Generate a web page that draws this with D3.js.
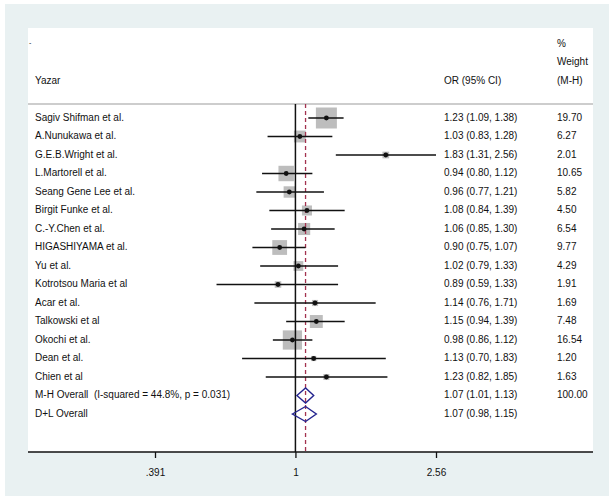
<!DOCTYPE html>
<html>
<head>
<meta charset="utf-8">
<script src="https://cdn.jsdelivr.net/npm/d3@7"></script>
<style>
  html, body { margin: 0; padding: 0; background: #ffffff; }
  svg { display: block; font-family: "Liberation Sans", Arial, sans-serif; }
  text { white-space: pre; }
</style>
</head>
<body>
<svg id="chart" width="613" height="496"></svg>
<script>
// ---- Data ----
const studies = ["Sagiv Shifman et al.", "A.Nunukawa et al.", "G.E.B.Wright et al.", "L.Martorell et al.",
  "Seang Gene Lee et al.", "Birgit Funke et al.", "C.-Y.Chen et al.", "HIGASHIYAMA et al.", "Yu et al.",
  "Kotrotsou Maria et al", "Acar et al.", "Talkowski et al", "Okochi et al.", "Dean et al.", "Chien et al"];
const or  = [1.23, 1.03, 1.83, 0.94, 0.96, 1.08, 1.06, 0.90, 1.02, 0.89, 1.14, 1.15, 0.98, 1.13, 1.23];
const lo  = [1.09, 0.83, 1.31, 0.80, 0.77, 0.84, 0.85, 0.75, 0.79, 0.59, 0.76, 0.94, 0.86, 0.70, 0.82];
const hi  = [1.38, 1.28, 2.56, 1.12, 1.21, 1.39, 1.30, 1.07, 1.33, 1.33, 1.71, 1.39, 1.12, 1.83, 1.85];
const weight = [19.70, 6.27, 2.01, 10.65, 5.82, 4.50, 6.54, 9.77, 4.29, 1.91, 1.69, 7.48, 16.54, 1.20, 1.63];

const overallLabels = ["M-H Overall  (I-squared = 44.8%, p = 0.031)", "D+L Overall"];
const overallOR = [1.07, 1.07];
const overallLo = [1.01, 0.98];
const overallHi = [1.13, 1.15];
const overallWeight = ["100.00", ""];

const tickValues = [0.391, 1, 2.56];
const tickLabels = [".391", "1", "2.56"];

// ---- Layout ----
const svg = d3.select("#chart");
const panel = {x0: 28, x1: 593, y0: 28, y1: 452};
const headerLineY = 104;
const colName = 35, colOR = 444, colW = 557;
const fs = 10;

// outer background
svg.append("rect").attr("x", 5).attr("y", 4).attr("width", 604).attr("height", 492).attr("fill", "#e9f1f2");
svg.append("rect").attr("x", panel.x0).attr("y", panel.y0).attr("width", panel.x1 - panel.x0)
  .attr("height", panel.y1 - panel.y0).attr("fill", "#ffffff");

const x = d3.scaleLog().domain([0.391, 2.56]).range([155, 436]);
const nRows = studies.length + overallLabels.length;
const y = d3.scaleLinear().domain([0, nRows - 1]).range([118, 414]);
const boxSide = d3.scaleSqrt().domain([0, 19.70]).range([0, 21]);

// header
const txt = (xx, yy, s, anchor) => svg.append("text").attr("x", xx).attr("y", yy)
  .attr("font-size", fs).attr("fill", "#111").attr("text-anchor", anchor || "start")
  .attr("dominant-baseline", "middle").attr("xml:space", "preserve").text(s);
txt(29, 43, "-").attr("font-size", 7);
txt(colName, 81, "Yazar");
txt(colOR, 81, "OR (95% CI)");
txt(colW, 44, "%");
txt(colW, 62.5, "Weight");
txt(colW, 81, "(M-H)");

svg.append("line").attr("x1", panel.x0).attr("x2", panel.x1).attr("y1", headerLineY).attr("y2", headerLineY)
  .attr("stroke", "#bdbdbd").attr("stroke-width", 1.3);

// boxes
const rows = d3.range(studies.length);
svg.append("g").selectAll("rect").data(rows).join("rect")
  .attr("x", i => x(or[i]) - boxSide(weight[i]) / 2)
  .attr("y", i => y(i) - boxSide(weight[i]) / 2)
  .attr("width", i => boxSide(weight[i]))
  .attr("height", i => boxSide(weight[i]))
  .attr("fill", "#bdbdbd");

// reference line at 1
svg.append("line").attr("x1", x(1)).attr("x2", x(1)).attr("y1", headerLineY).attr("y2", panel.y1)
  .attr("stroke", "#111").attr("stroke-width", 1.5);
// overall dashed line
svg.append("line").attr("x1", x(overallOR[0])).attr("x2", x(overallOR[0])).attr("y1", headerLineY).attr("y2", panel.y1)
  .attr("stroke", "#a3324f").attr("stroke-width", 1.3).attr("stroke-dasharray", "4,3");

// CI lines
svg.append("g").selectAll("line").data(rows).join("line")
  .attr("x1", i => x(lo[i])).attr("x2", i => x(hi[i]))
  .attr("y1", i => y(i)).attr("y2", i => y(i))
  .attr("stroke", "#111").attr("stroke-width", 1.4);
// points
svg.append("g").selectAll("circle").data(rows).join("circle")
  .attr("cx", i => x(or[i])).attr("cy", i => y(i)).attr("r", 2.4).attr("fill", "#111");

// diamonds
const dH = 7.5;
svg.append("g").selectAll("path").data(d3.range(overallLabels.length)).join("path")
  .attr("d", j => {
    const yy = y(studies.length + j);
    return `M${x(overallLo[j])},${yy}L${x(overallOR[j])},${yy - dH}L${x(overallHi[j])},${yy}L${x(overallOR[j])},${yy + dH}Z`;
  })
  .attr("fill", "none").attr("stroke", "#24248f").attr("stroke-width", 1.4);

// texts
const f2 = d3.format(".2f");
rows.forEach(i => {
  txt(colName, y(i), studies[i]);
  txt(colOR, y(i), `${f2(or[i])} (${f2(lo[i])}, ${f2(hi[i])})`);
  txt(colW, y(i), f2(weight[i]));
});
overallLabels.forEach((lab, j) => {
  const yy = y(studies.length + j);
  txt(colName, yy, lab);
  txt(colOR, yy, `${f2(overallOR[j])} (${f2(overallLo[j])}, ${f2(overallHi[j])})`);
  if (overallWeight[j]) txt(colW, yy, overallWeight[j]);
});

// x axis
svg.append("line").attr("x1", panel.x0).attr("x2", panel.x1).attr("y1", panel.y1).attr("y2", panel.y1)
  .attr("stroke", "#111").attr("stroke-width", 1.5);
const axis = d3.axisBottom(x).tickValues(tickValues).tickFormat((d, i) => tickLabels[i]).tickSizeOuter(0).tickSize(6).tickPadding(11);
const gAxis = svg.append("g").attr("transform", `translate(0,${panel.y1})`).call(axis);
gAxis.select(".domain").remove();
gAxis.selectAll(".tick line").attr("stroke", "#111").attr("stroke-width", 1.3);
gAxis.selectAll(".tick text").attr("font-size", fs).attr("fill", "#111").attr("font-family", "Liberation Sans, Arial, sans-serif");
</script>
</body>
</html>
